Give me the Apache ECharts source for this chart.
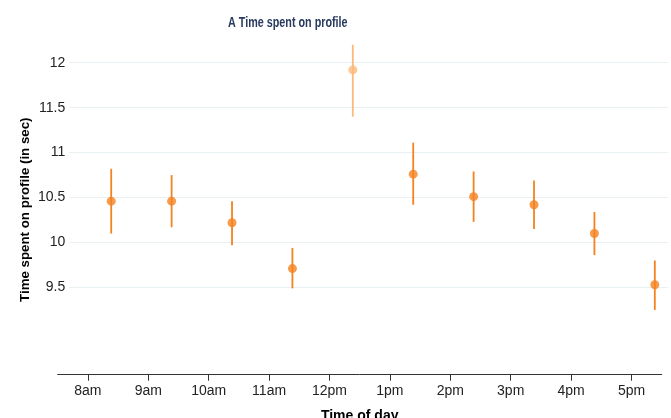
<!DOCTYPE html>
<html>
<head>
<meta charset="utf-8">
<script src="https://cdn.jsdelivr.net/npm/echarts@6/dist/echarts.min.js"></script>
<style>
html,body{margin:0;padding:0;background:#fff;}
#main{width:671px;height:418px;}
</style>
</head>
<body>
<div id="main"></div>
<script>
var hours = [8, 9, 10, 11, 12, 13, 14, 15, 16, 17];
var hourLabels = ['8am', '9am', '10am', '11am', '12pm', '1pm', '2pm', '3pm', '4pm', '5pm'];
var means = [10.46, 10.46, 10.22, 9.71, 11.92, 10.76, 10.51, 10.42, 10.10, 9.53];
var lower = [10.10, 10.17, 9.97, 9.49, 11.40, 10.42, 10.23, 10.15, 9.86, 9.25];
var upper = [10.82, 10.75, 10.46, 9.94, 12.20, 11.11, 10.79, 10.69, 10.34, 9.80];
var highlighted = [false, false, false, false, true, false, false, false, false, false];
var yTicks = [9.5, 10, 10.5, 11, 11.5, 12];
var titleText = 'A Time spent on profile';

(function () {
var DARK = '#f5821f', LIGHT = '#fdb97a';
var FONT = '"Liberation Sans", Arial, sans-serif';

var chart = echarts.init(document.getElementById('main'), null, {renderer: 'canvas'});

var pointData = hours.map(function (h, i) {
  return {value: [h, means[i]], itemStyle: {color: highlighted[i] ? LIGHT : DARK}};
});
var barData = hours.map(function (h, i) {
  return [h, lower[i], upper[i], highlighted[i] ? 1 : 0];
});

var gTop = 44.7, gBottom = 43.3;
var option = {
  animation: false,
  graphic: [{
    type: 'text', x: 228, y: 16, scaleX: 0.77,
    style: {text: titleText, fontFamily: FONT, fontSize: 14, fontWeight: 'bold', fill: '#283a5e'}
  }],
  grid: [
    {left: 57.7, right: 9.3, top: gTop, bottom: gBottom, outerBoundsMode: 'none', containLabel: false},
    {left: 69.3, right: 3, top: gTop, bottom: gBottom, outerBoundsMode: 'none', containLabel: false}
  ],
  xAxis: [
    {
      gridIndex: 0, type: 'value', min: 7.5, max: 17.5,
      name: 'Time of day', nameLocation: 'middle', nameGap: 34,
      nameTextStyle: {fontFamily: FONT, fontSize: 14, fontWeight: 'bold', color: '#000'},
      axisLine: {show: true, onZero: false, lineStyle: {color: '#333', width: 1}},
      axisTick: {show: true, length: 6, customValues: hours, lineStyle: {color: '#333'}},
      axisLabel: {
        customValues: hours, margin: 9,
        fontFamily: FONT, fontSize: 14, color: '#222',
        formatter: function (v) { var i = hours.indexOf(Math.round(v)); return i >= 0 ? hourLabels[i] : ''; }
      },
      splitLine: {show: false}
    },
    {gridIndex: 0, type: 'value', min: 7.5 - 0.386, max: 17.5 - 0.386, show: false},
    {gridIndex: 1, type: 'value', min: 0, max: 1, show: false}
  ],
  yAxis: [
    {gridIndex: 0, type: 'value', min: 8.53, max: 12.2, show: false},
    {
      gridIndex: 1, type: 'value', min: 8.53, max: 12.2,
      name: 'Time spent on profile (in sec)', nameLocation: 'middle', nameGap: 37,
      nameMoveOverlap: false,
      nameTextStyle: {fontFamily: FONT, fontSize: 13.3, fontWeight: 'bold', color: '#000'},
      axisLine: {show: false},
      axisTick: {show: false, customValues: yTicks},
      axisLabel: {
        customValues: yTicks, margin: 4,
        fontFamily: FONT, fontSize: 14, color: '#222'
      },
      splitLine: {show: true, lineStyle: {color: '#e9f0f3', width: 1.2}}
    }
  ],
  series: [
    {
      type: 'custom', xAxisIndex: 1, yAxisIndex: 0,
      data: barData,
      renderItem: function (params, api) {
        var p1 = api.coord([api.value(0), api.value(1)]);
        var p2 = api.coord([api.value(0), api.value(2)]);
        return {
          type: 'line',
          shape: {x1: p1[0], y1: p1[1], x2: p2[0], y2: p2[1]},
          style: {stroke: api.value(3) ? LIGHT : DARK, lineWidth: 1.8}
        };
      },
      z: 2
    },
    {
      type: 'scatter', xAxisIndex: 1, yAxisIndex: 0,
      symbol: 'circle', symbolSize: 9,
      data: pointData,
      z: 3
    }
  ]
};
chart.setOption(option);
})();
</script>
</body>
</html>
